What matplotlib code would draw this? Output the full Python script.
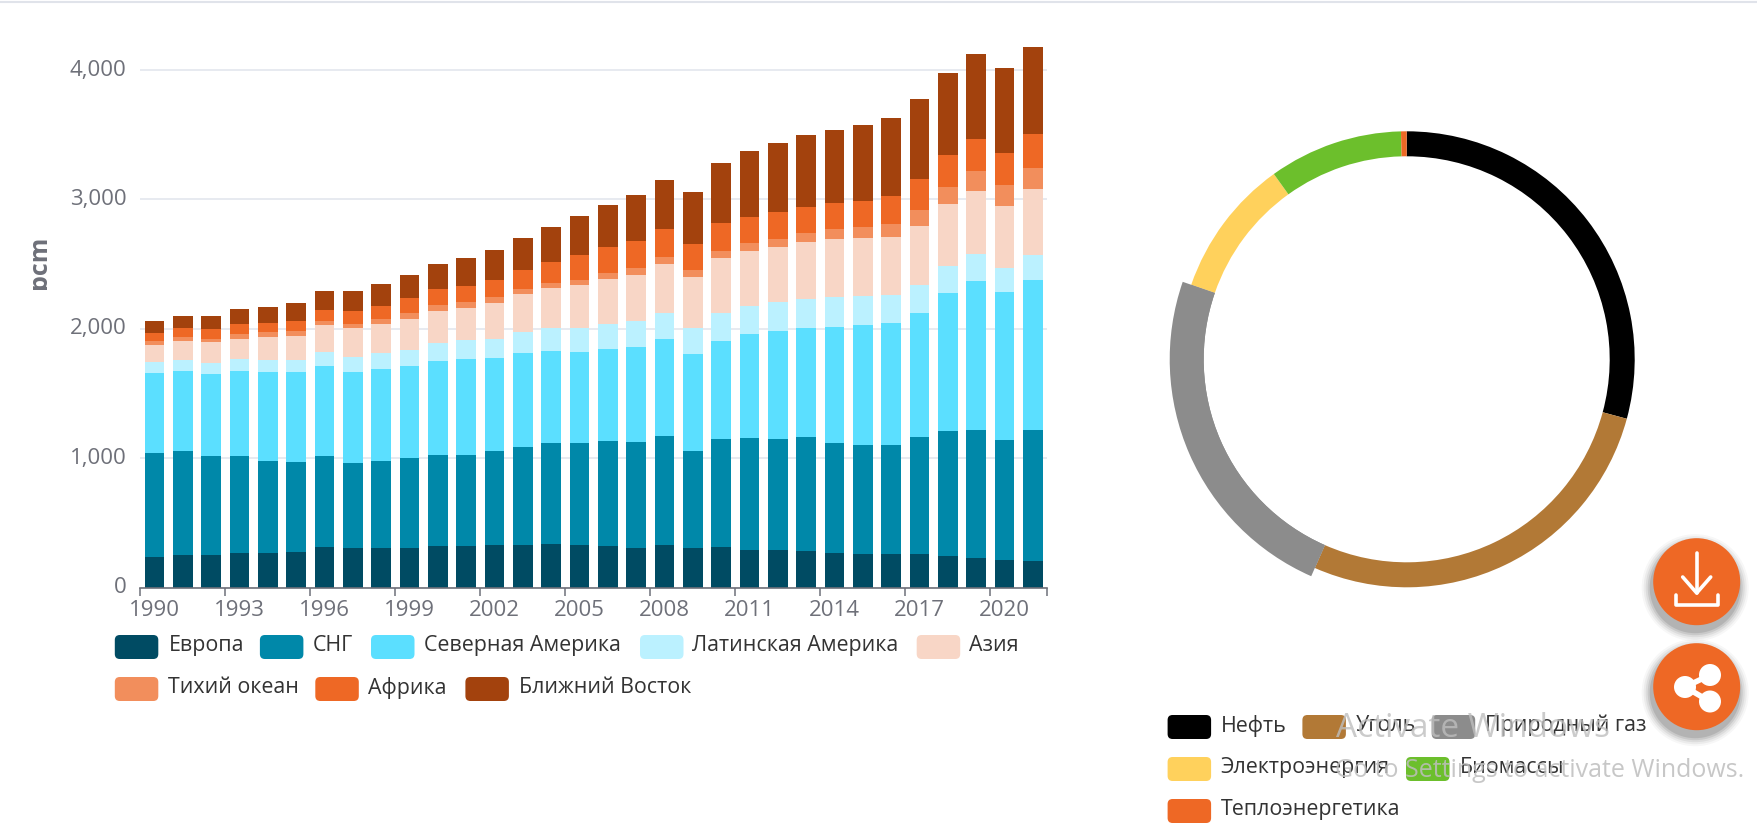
import numpy as np
import matplotlib
matplotlib.use("Agg")
import matplotlib.pyplot as plt
from matplotlib.patches import FancyBboxPatch, Circle, Rectangle
from matplotlib.transforms import ScaledTranslation

plt.rcParams['font.family'] = ['Open Sans', 'DejaVu Sans']

W, H = 1758, 830

years = list(range(1990, 2022))

europe = [240, 253, 255, 271, 271, 276, 317, 310, 307, 310, 320, 325, 333, 333, 341, 333,
          325, 310, 328, 310, 317, 294, 294, 286, 271, 263, 263, 263, 248, 232, 214, 206]
cis = [803, 805, 764, 748, 710, 699, 702, 655, 674, 691, 707, 702, 722, 756, 779, 787,
       805, 818, 846, 748, 829, 862, 854, 880, 849, 839, 842, 901, 965, 989, 929, 1009]
north_america = [617, 618, 636, 657, 687, 688, 695, 703, 710, 713, 726, 741, 721, 723, 710, 702,
                 716, 730, 746, 746, 761, 805, 837, 842, 895, 929, 941, 962, 1065, 1150, 1140, 1163]
latin_america = [85, 85, 82, 90, 93, 98, 108, 118, 124, 124, 136, 144, 149, 167, 175, 183,
                 193, 199, 204, 201, 214, 217, 221, 226, 230, 224, 214, 214, 211, 211, 188, 196]
asia = [131, 149, 158, 159, 175, 185, 204, 217, 224, 242, 250, 250, 276, 289, 312, 332,
        347, 360, 378, 397, 425, 427, 425, 440, 450, 448, 450, 455, 476, 484, 476, 505]
pacific = [31, 28, 28, 36, 36, 39, 36, 38, 38, 44, 46, 46, 46, 41, 41, 41,
           46, 54, 54, 54, 59, 59, 61, 70, 77, 85, 101, 124, 132, 154, 165, 162]
africa = [62, 70, 74, 78, 72, 77, 87, 98, 101, 113, 121, 124, 131, 147, 159, 191,
          201, 209, 216, 200, 211, 201, 212, 201, 201, 203, 216, 239, 247, 247, 245, 265]
middle_east = [90, 95, 106, 113, 126, 139, 144, 154, 167, 180, 196, 214, 229, 247, 271, 301,
               325, 352, 381, 402, 463, 510, 530, 551, 564, 582, 602, 618, 635, 654, 661, 673]

region_names = ['Европа', 'СНГ', 'Северная Америка', 'Латинская Америка', 'Азия',
                'Тихий океан', 'Африка', 'Ближний Восток']
region_colors = ['#004B63', '#0088A9', '#5BDFFF', '#BBF1FF', '#F8D6C6',
                 '#F28E5C', '#EE6825', '#A3420D']
regions = [europe, cis, north_america, latin_america, asia, pacific, africa, middle_east]

fuel_names = ['Нефть', 'Уголь', 'Природный газ', 'Электроэнергия', 'Биомассы', 'Теплоэнергетика']
fuel_shares = [29.2, 27.4, 23.7, 9.8, 9.5, 0.4]
fuel_colors = ['#000000', '#B27936', '#8C8C8C', '#FFD15C', '#6CBF2C', '#EE6825']

y_ticks = [0, 1000, 2000, 3000, 4000]
y_tick_labels = ['0', '1,000', '2,000', '3,000', '4,000']
y_top = 4300


def pixel_axes(left, top, right, bottom):
    return fig.add_axes([left / W, 1 - bottom / H, (right - left) / W, (bottom - top) / H])


fig = plt.figure(figsize=(W / 100, H / 100), dpi=100)

# Stacked bars
plot_bottom = 587.7
plot_top = plot_bottom - y_top * 0.12942
ax = pixel_axes(140.4, plot_top, 1047, plot_bottom)
x = np.arange(len(years))
base = np.zeros(len(years))
for values, color in zip(regions, region_colors):
    ax.bar(x, values, width=0.69, bottom=base, color=color, zorder=3, linewidth=0)
    base += np.array(values)

ax.set_xlim(-0.5, len(years) - 0.5)
ax.set_ylim(0, y_top)
for side in ['top', 'left', 'right']:
    ax.spines[side].set_visible(False)
ax.spines['bottom'].set_color('#6E7079')
ax.spines['bottom'].set_linewidth(1.2)
ax.spines['bottom'].set_zorder(4)

tick_edges = list(np.arange(-0.5, len(years), 3)) + [len(years) - 0.5]
ax.set_xticks(tick_edges, [''] * len(tick_edges))
ax.set_xticks(x[::3], [str(y) for y in years[::3]], minor=True)
ax.tick_params(axis='x', which='major', length=5.8, width=1.1, color='#6E7079')
ax.tick_params(axis='x', which='minor', length=0, pad=8.5, labelsize=16, labelcolor='#6E7079')

ax.set_yticks(y_ticks, y_tick_labels)
ax.tick_params(axis='y', length=0, pad=10, labelsize=16, labelcolor='#6E7079')
# labels sit a little above their gridlines
up = ScaledTranslation(0, 2.5 / 100, fig.dpi_scale_trans)
for label in ax.get_yticklabels():
    label.set_transform(label.get_transform() + up)
ax.grid(axis='y', color='#E3E6EE', linewidth=1.2, zorder=0)
ax.set_axisbelow(True)

# Donut, the gas slice is highlighted so it is drawn wider
ax2 = pixel_axes(1406.7 - 245, 359.3 - 245, 1406.7 + 245, 359.3 + 245)
ax2.pie(fuel_shares, colors=fuel_colors, radius=228, startangle=90, counterclock=False,
        wedgeprops={'width': 25, 'linewidth': 0})
highlight = ['none' if n != 'Природный газ' else c for n, c in zip(fuel_names, fuel_colors)]
ax2.pie(fuel_shares, colors=highlight, radius=237, startangle=90, counterclock=False,
        wedgeprops={'width': 34, 'linewidth': 0})
ax2.set_xlim(-245, 245)
ax2.set_ylim(-245, 245)

# Overlay in pixel coordinates for everything around the charts
over = fig.add_axes([0, 0, 1, 1], facecolor='none')
over.set_xlim(0, W)
over.set_ylim(H, 0)
over.axis('off')

over.plot([0, W], [2.5, 2.5], color='#E0E3EA', linewidth=1.5)

# the ascender of the axis name is cut off by the container in the original
over.text(46, 262, 'bcm', rotation=90, rotation_mode='anchor', ha='center', va='baseline',
          fontsize=18, fontweight='bold', color='#6E7079', zorder=3)
over.add_patch(Rectangle((15, 220), 18, 85, facecolor='white', edgecolor='none', zorder=4))


def legend_entry(name, color, sw_left, text_left, center_y, sw_width=43.5):
    over.add_patch(FancyBboxPatch((sw_left, center_y - 12), sw_width, 24,
                                  boxstyle='round,pad=0,rounding_size=5',
                                  facecolor=color, edgecolor='none'))
    over.text(text_left, center_y - 1.5, name, ha='left', va='center', fontsize=15.4, color='#333333')


region_sw_left = [114.8, 259.9, 371, 640, 916.7, 114.8, 315.3, 465.4]
region_text_left = [168.4, 313, 423.6, 692.3, 969.3, 168.4, 368, 518.6]
region_row_y = [647, 647, 647, 647, 647, 689, 689, 689]
for i in range(len(region_names)):
    legend_entry(region_names[i], region_colors[i], region_sw_left[i], region_text_left[i], region_row_y[i])

fuel_sw_left = [1167.6, 1302.4, 1431.7, 1167.6, 1406, 1167.6]
fuel_text_left = [1220.8, 1356, 1485.3, 1220.8, 1460, 1220.8]
fuel_row_y = [727, 727, 727, 769, 769, 811]
for i in range(len(fuel_names)):
    legend_entry(fuel_names[i], fuel_colors[i], fuel_sw_left[i], fuel_text_left[i], fuel_row_y[i])

# Windows watermark from the screenshot
over.text(1336, 728, 'Activate Windows', fontsize=24, color='#BEBEBE', alpha=0.8, va='center', zorder=6)
over.text(1335, 770, 'Go to Settings to activate Windows.', fontsize=18, color='#BEBEBE', alpha=0.85,
          va='center', zorder=6)

# Floating buttons
btn_x = 1696.7
for btn_y in [581.7, 686.7]:
    for grow, alpha in zip([10, 8, 6, 4, 2], [0.04, 0.06, 0.08, 0.11, 0.14]):
        over.add_patch(Circle((btn_x - 1.5, btn_y + 6), 43.5 + grow, facecolor='#333333', edgecolor='none',
                              alpha=alpha, zorder=7))
    over.add_patch(Circle((btn_x, btn_y), 43.5, facecolor='#EE6825', edgecolor='none', zorder=8))

icon = {'color': 'white', 'linewidth': 2.6, 'zorder': 9, 'solid_capstyle': 'round', 'solid_joinstyle': 'round'}
over.plot([btn_x, btn_x], [553, 593], **icon)
over.plot([btn_x - 14, btn_x, btn_x + 14], [577, 593, 577], **icon)
over.plot([btn_x - 21, btn_x - 21, btn_x + 21, btn_x + 21], [595, 605, 605, 595], **icon)

share_pts = [(1685, 687), (1710, 675), (1710, 701.5)]
over.plot([share_pts[1][0], share_pts[0][0], share_pts[2][0]],
          [share_pts[1][1], share_pts[0][1], share_pts[2][1]], color='white', linewidth=4, zorder=9)
for p in share_pts:
    over.add_patch(Circle(p, 11, facecolor='white', edgecolor='none', zorder=9))

fig.savefig('out.png', dpi=100)
